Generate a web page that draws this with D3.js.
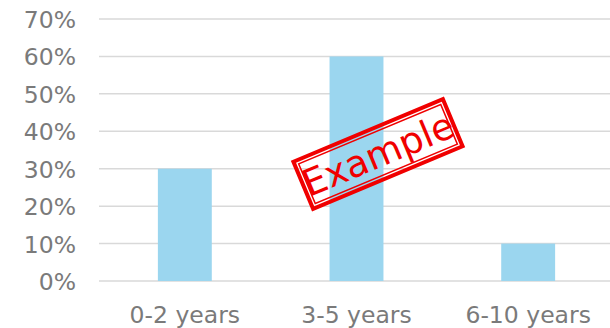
<!DOCTYPE html>
<html>
<head>
<meta charset="utf-8">
<script src="https://cdn.jsdelivr.net/npm/d3@7"></script>
<style>
  html, body { margin: 0; padding: 0; background: #fff; }
  svg { display: block; }
</style>
</head>
<body>
<svg id="chart" width="610" height="328"></svg>
<script>
// Share of respondents by tenure band
const categories = ["0-2 years", "3-5 years", "6-10 years"];
const shares = [0.30, 0.60, 0.10];
const yTicks = [0, 0.1, 0.2, 0.3, 0.4, 0.5, 0.6, 0.7];

const svg = d3.select("#chart");
const font = "'DejaVu Sans', Verdana, sans-serif";
const textColor = "#7a7a7a";

const x = d3.scaleBand()
  .domain(categories)
  .range([99, 614])
  .paddingInner(0.686)
  .paddingOuter(0.343);

const y = d3.scaleLinear()
  .domain([0, 0.7])
  .range([281, 19]);

// Horizontal gridlines
svg.append("g")
  .selectAll("line")
  .data(yTicks)
  .join("line")
  .attr("x1", 99)
  .attr("x2", 610)
  .attr("y1", d => y(d))
  .attr("y2", d => y(d))
  .attr("stroke", "#d9d9d9")
  .attr("stroke-width", 1.5);

// Y axis labels
const yAxis = d3.axisLeft(y)
  .tickValues(yTicks)
  .tickFormat(d3.format(".0%"))
  .tickSize(0)
  .tickPadding(0);

svg.append("g")
  .attr("transform", "translate(76,0)")
  .call(yAxis)
  .call(g => g.select(".domain").remove())
  .call(g => g.selectAll("text")
    .attr("fill", textColor)
    .attr("font-family", font)
    .attr("font-size", 23.5)
    .attr("dy", "0.36em"));

// Bars
svg.append("g")
  .selectAll("rect")
  .data(categories)
  .join("rect")
  .attr("x", d => x(d))
  .attr("width", x.bandwidth())
  .attr("y", (d, i) => y(shares[i]))
  .attr("height", (d, i) => y(0) - y(shares[i]))
  .attr("fill", "#9bd6ef");

// X axis labels
const xAxis = d3.axisBottom(x).tickSize(0).tickPadding(0);
svg.append("g")
  .attr("transform", "translate(0,306)")
  .call(xAxis)
  .call(g => g.select(".domain").remove())
  .call(g => g.selectAll("text")
    .attr("fill", textColor)
    .attr("font-family", font)
    .attr("font-size", 23.5)
    .attr("dy", "0.71em"));

// "Example" stamp: double red frame with rotated text
const stamp = svg.append("g")
  .attr("transform", "translate(378,154) rotate(-22.7)");

stamp.append("rect")
  .attr("x", -81)
  .attr("y", -25.5)
  .attr("width", 162)
  .attr("height", 51)
  .attr("fill", "none")
  .attr("stroke", "#f00000")
  .attr("stroke-width", 4);

stamp.append("rect")
  .attr("x", -77)
  .attr("y", -21.5)
  .attr("width", 154)
  .attr("height", 43)
  .attr("fill", "none")
  .attr("stroke", "#f00000")
  .attr("stroke-width", 1.5);

stamp.append("text")
  .attr("text-anchor", "middle")
  .attr("dy", "0.36em")
  .attr("fill", "#f00000")
  .attr("font-family", font)
  .attr("font-size", 37)
  .text("Example");
</script>
</body>
</html>
